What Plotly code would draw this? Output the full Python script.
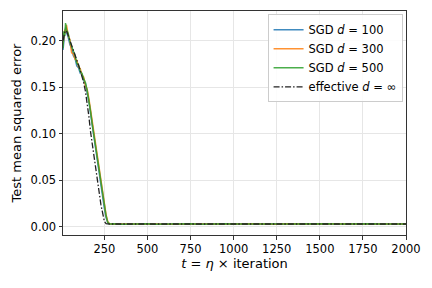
import plotly.graph_objects as go

# time grid (t = eta x iteration)
t_vals = [10, 15, 20, 25, 30, 40, 50, 60, 70, 80, 90, 100, 110, 120, 130, 140, 150,
          160, 170, 180, 190, 200, 210, 220, 230, 240, 250, 260, 270, 280, 290, 300,
          350, 400, 450, 500, 550, 600, 650, 700, 750, 800, 850, 900, 950, 1000,
          1050, 1100, 1150, 1200, 1250, 1300, 1350, 1400, 1450, 1500, 1550, 1600,
          1650, 1700, 1750, 1800, 1850, 1900, 1950, 2000]

sgd_100 = [0.190, 0.203, 0.208, 0.214, 0.209, 0.204, 0.196, 0.192, 0.184, 0.181, 0.173, 0.171,
           0.165, 0.164, 0.157, 0.154, 0.145, 0.135, 0.122, 0.109, 0.095, 0.083,
           0.070, 0.058, 0.045, 0.032, 0.020, 0.010, 0.0045, 0.0032, 0.0030, 0.0033,
           0.0031, 0.0034, 0.0030, 0.0033, 0.0031, 0.0034, 0.0031, 0.0030, 0.0033, 0.0031,
           0.0034, 0.0031, 0.0033, 0.0030, 0.0033, 0.0031, 0.0034, 0.0031, 0.0033, 0.0030,
           0.0033, 0.0031, 0.0034, 0.0031, 0.0030, 0.0033, 0.0031, 0.0034, 0.0031, 0.0033,
           0.0030, 0.0033, 0.0031, 0.0033]

sgd_300 = [0.196, 0.206, 0.212, 0.208, 0.217, 0.206, 0.201, 0.187, 0.186, 0.180, 0.179, 0.172,
           0.170, 0.163, 0.161, 0.152, 0.148, 0.138, 0.125, 0.111, 0.098, 0.086,
           0.073, 0.061, 0.049, 0.036, 0.024, 0.013, 0.0055, 0.0034, 0.0032, 0.0033,
           0.0033, 0.0031, 0.0034, 0.0031, 0.0033, 0.0030, 0.0033, 0.0034, 0.0031, 0.0033,
           0.0031, 0.0034, 0.0030, 0.0033, 0.0031, 0.0034, 0.0031, 0.0033, 0.0030, 0.0034,
           0.0031, 0.0033, 0.0031, 0.0034, 0.0033, 0.0030, 0.0033, 0.0031, 0.0034, 0.0031,
           0.0033, 0.0031, 0.0034, 0.0031]

sgd_500 = [0.192, 0.210, 0.205, 0.219, 0.212, 0.208, 0.199, 0.194, 0.187, 0.184, 0.176, 0.174,
           0.167, 0.165, 0.159, 0.155, 0.147, 0.137, 0.124, 0.110, 0.097, 0.085,
           0.072, 0.060, 0.048, 0.035, 0.023, 0.012, 0.0050, 0.0033, 0.0031, 0.0034,
           0.0030, 0.0033, 0.0031, 0.0034, 0.0030, 0.0033, 0.0031, 0.0033, 0.0034, 0.0030,
           0.0033, 0.0031, 0.0034, 0.0031, 0.0030, 0.0033, 0.0031, 0.0034, 0.0031, 0.0033,
           0.0034, 0.0030, 0.0033, 0.0031, 0.0034, 0.0031, 0.0033, 0.0030, 0.0033, 0.0034,
           0.0031, 0.0033, 0.0030, 0.0033]

eff_t = [10, 20, 30, 40, 50, 60, 70, 80, 90, 100, 110, 120, 130, 140, 150,
         160, 170, 180, 190, 200, 210, 220, 230, 240, 250, 260, 270, 280, 2000]
eff_inf = [0.200, 0.209, 0.211, 0.206, 0.200, 0.194, 0.189, 0.184, 0.179, 0.174,
           0.168, 0.162, 0.155, 0.146, 0.134, 0.119, 0.102, 0.088, 0.075, 0.062,
           0.050, 0.037, 0.024, 0.013, 0.006, 0.0036, 0.0032, 0.0032, 0.0032]

x_ticks = [250, 500, 750, 1000, 1250, 1500, 1750, 2000]
y_ticks = [0.00, 0.05, 0.10, 0.15, 0.20]

series = [
    ("SGD <i>d</i> = 100", sgd_100, "#1f77b4"),
    ("SGD <i>d</i> = 300", sgd_300, "#ff7f0e"),
    ("SGD <i>d</i> = 500", sgd_500, "#2ca02c"),
]

fig = go.Figure()
for name, vals, col in series:
    fig.add_trace(go.Scatter(x=t_vals, y=vals, mode="lines", name=name,
                             line=dict(color=col, width=1.5), opacity=0.85))
fig.add_trace(go.Scatter(x=eff_t, y=eff_inf, mode="lines", name="effective <i>d</i> = ∞",
                         line=dict(color="#222222", width=1.3, dash="6px,2px,1.5px,2px")))

font = "DejaVu Sans, Verdana, sans-serif"
fig.update_layout(
    width=432, height=288,
    margin=dict(l=63, r=26, t=11, b=53),
    paper_bgcolor="white", plot_bgcolor="white",
    font=dict(family=font, size=11.5, color="black"),
    showlegend=True,
    legend=dict(x=0.99, y=0.985, xanchor="right", yanchor="top",
                bgcolor="rgba(255,255,255,0.85)", bordercolor="#cccccc", borderwidth=1,
                font=dict(size=11.5), tracegroupgap=0, itemwidth=30),
)
fig.update_xaxes(
    range=[10, 2000], tickvals=x_ticks, ticktext=[str(v) for v in x_ticks],
    showgrid=True, gridcolor="#e6e6e6", gridwidth=1,
    showline=True, linecolor="#333333", linewidth=1, mirror=True,
    ticks="outside", ticklen=3.5, tickcolor="#333333", zeroline=False,
    tickfont=dict(size=11.5),
    title=dict(text="<i>t</i> = <i>η</i> × iteration", font=dict(size=13), standoff=2),
)
fig.update_yaxes(
    range=[-0.0086, 0.2319], tickvals=y_ticks, ticktext=[f"{v:.2f}" for v in y_ticks],
    showgrid=True, gridcolor="#e6e6e6", gridwidth=1,
    showline=True, linecolor="#333333", linewidth=1, mirror=True,
    ticks="outside", ticklen=3.5, tickcolor="#333333", zeroline=False,
    tickfont=dict(size=11.5),
    title=dict(text="Test mean squared error", font=dict(size=13), standoff=6),
)

fig.write_html("out.html", config={"displayModeBar": False},
               post_script="document.body.style.margin='0';document.body.style.padding='0';")
